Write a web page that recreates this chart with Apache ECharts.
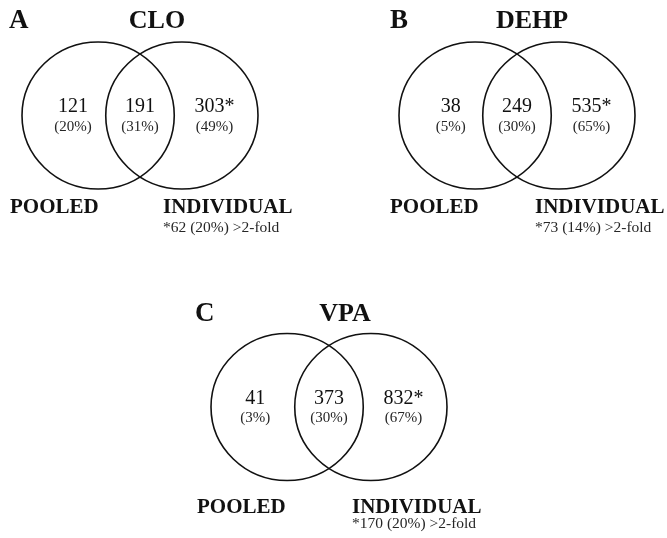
<!DOCTYPE html>
<html>
<head>
<meta charset="utf-8">
<script src="https://cdn.jsdelivr.net/npm/echarts@6/dist/echarts.min.js"></script>
<style>
  html, body { margin: 0; padding: 0; background: #fff; }
  #chart { width: 667px; height: 538px; }
</style>
</head>
<body>
<div id="chart"></div>
<script>
// Overlap of regulated genes: pooled vs individual samples, per compound
const panelLetters = ['A', 'B', 'C'];
const treatments = ['CLO', 'DEHP', 'VPA'];
const setNames = ['POOLED', 'INDIVIDUAL'];
const pooledOnly = [121, 38, 41];
const pooledOnlyPct = [20, 5, 3];
const shared = [191, 249, 373];
const sharedPct = [31, 30, 30];
const individualOnly = [303, 535, 832];
const individualOnlyPct = [49, 65, 67];
const foldCount = [62, 73, 170];
const foldPct = [20, 14, 20];

// Layout of each panel (pixels): box holding the two circles, plus text anchors
const SEP = 1.1; // distance between circle centres, in radii
const panels = [
  { left: 22,  top: 42,    letterX: 9,   titleX: 157, pooledX: 10,  indivX: 163, titleY: 21,  setY: 208, noteY: 228, leftLabelX: -0.33 },
  { left: 399, top: 42,    letterX: 390, titleX: 532, pooledX: 390, indivX: 535, titleY: 21,  setY: 208, noteY: 228, leftLabelX: -0.32 },
  { left: 211, top: 333.5, letterX: 195, titleX: 345, pooledX: 197, indivX: 352, titleY: 314, setY: 508, noteY: 524, leftLabelX: -0.42 }
];
const BOX_W = 236, BOX_H = 147;

const SERIF = '"Liberation Serif", "DejaVu Serif", serif';
const INK = '#111111';

const grids = [], xAxes = [], yAxes = [], series = [], graphics = [];

panels.forEach((p, i) => {
  grids.push({ left: p.left, top: p.top, width: BOX_W, height: BOX_H, containLabel: false });
  xAxes.push({ gridIndex: i, type: 'value', min: -1, max: 1 + SEP, show: false });
  yAxes.push({ gridIndex: i, type: 'value', min: -1, max: 1, show: false });

  // the two sets as outlined circles
  series.push({
    type: 'custom',
    xAxisIndex: i, yAxisIndex: i,
    silent: true,
    data: [[0, 0], [SEP, 0]],
    renderItem: (params, api) => {
      const c = api.coord([api.value(0), api.value(1)]);
      const s = api.size([1, 1]);
      return {
        type: 'ellipse',
        shape: { cx: c[0], cy: c[1], rx: s[0], ry: s[1] },
        style: { fill: 'none', stroke: INK, lineWidth: 1.6 }
      };
    }
  });

  // region counts and their share
  const regions = [
    [p.leftLabelX, pooledOnly[i], pooledOnlyPct[i], ''],
    [SEP / 2, shared[i], sharedPct[i], ''],
    [1.53, individualOnly[i], individualOnlyPct[i], '*']
  ];
  series.push({
    type: 'custom',
    xAxisIndex: i, yAxisIndex: i,
    silent: true,
    data: regions.map(r => [r[0], 0, r[1], r[2], r[3]]),
    renderItem: (params, api) => {
      const c = api.coord([api.value(0), api.value(1)]);
      const item = regions[params.dataIndex];
      return {
        type: 'group',
        children: [
          { type: 'text', x: c[0], y: c[1] - 8.5,
            style: { text: item[1] + item[3], fontSize: 20, fontFamily: SERIF, fill: INK,
                     align: 'center', verticalAlign: 'middle' } },
          { type: 'text', x: c[0], y: c[1] + 11.5,
            style: { text: '(' + item[2] + '%)', fontSize: 15, fontFamily: SERIF, fill: '#262626',
                     align: 'center', verticalAlign: 'middle' } }
        ]
      };
    }
  });

  graphics.push(
    { type: 'text', x: p.letterX, y: p.titleY,
      style: { text: panelLetters[i], fontSize: 27, fontWeight: 'bold', fontFamily: SERIF, fill: INK, verticalAlign: 'middle' } },
    { type: 'text', x: p.titleX, y: p.titleY,
      style: { text: treatments[i], fontSize: 26, fontWeight: 'bold', fontFamily: SERIF, fill: INK, align: 'center', verticalAlign: 'middle' } },
    { type: 'text', x: p.pooledX, y: p.setY,
      style: { text: setNames[0], fontSize: 21, fontWeight: 'bold', fontFamily: SERIF, fill: INK, verticalAlign: 'middle' } },
    { type: 'text', x: p.indivX, y: p.setY,
      style: { text: setNames[1], fontSize: 21, fontWeight: 'bold', fontFamily: SERIF, fill: INK, verticalAlign: 'middle' } },
    { type: 'text', x: p.indivX, y: p.noteY,
      style: { text: '*' + foldCount[i] + ' (' + foldPct[i] + '%) >2-fold', fontSize: 15.5, fontFamily: SERIF, fill: '#262626', verticalAlign: 'middle' } }
  );
});

const chart = echarts.init(document.getElementById('chart'), null, { renderer: 'canvas' });
chart.setOption({
  backgroundColor: '#ffffff',
  animation: false,
  tooltip: { show: false },
  grid: grids,
  xAxis: xAxes,
  yAxis: yAxes,
  series: series,
  graphic: graphics
});
</script>
</body>
</html>
